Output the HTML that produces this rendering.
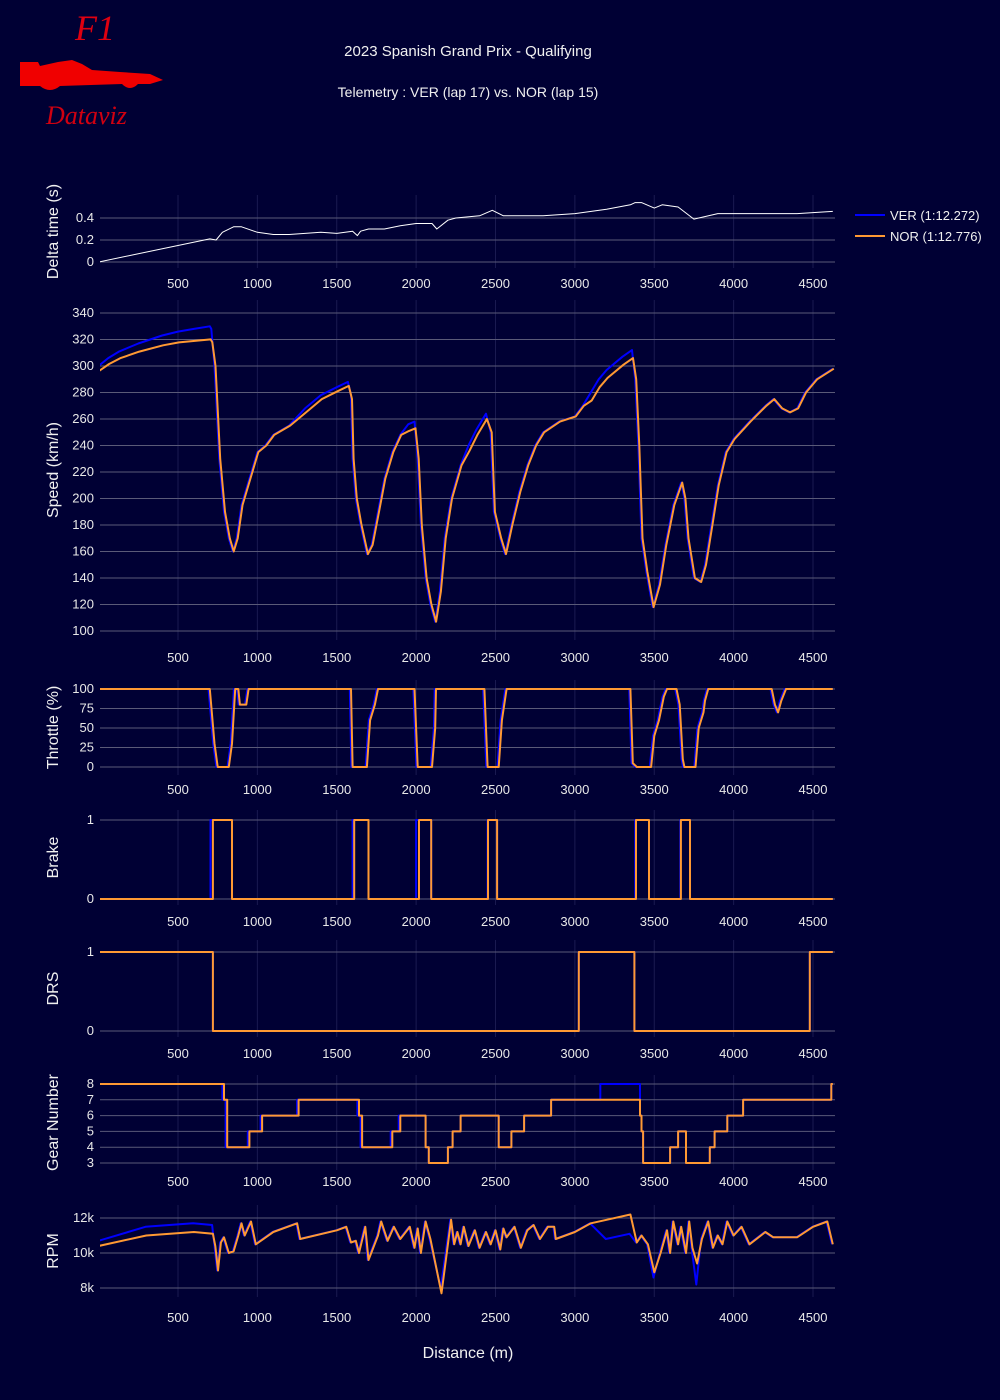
<!DOCTYPE html>
<html><head><meta charset="utf-8"><style>
html,body{margin:0;padding:0;background:#000034;}
svg{display:block;font-family:"Liberation Sans",sans-serif;}
</style></head><body>
<svg id="s" width="1000" height="1400" xmlns="http://www.w3.org/2000/svg">
<rect width="1000" height="1400" fill="#000034"/>
<text x="75" y="40" fill="#e00010" font-family="Liberation Serif,serif" font-style="italic" font-size="36">F1</text>
<path d="M20 62 L38 62 L40 66 L58 62 L72 60 L82 64 L92 70 L120 72 L150 74 L163 80 L150 84 L138 84 Q130 92 122 84 L60 86 Q50 94 40 86 L20 86 Z" fill="#f00000"/>
<text x="46" y="124" fill="#d00010" font-family="Liberation Serif,serif" font-style="italic" font-size="26">Dataviz</text>
<text x="468" y="56" fill="#f0f0f0" font-size="15" text-anchor="middle">2023 Spanish Grand Prix - Qualifying</text>
<text x="468" y="97" fill="#f0f0f0" font-size="14" text-anchor="middle">Telemetry :  VER (lap 17) vs. NOR (lap 15)</text>
<line x1="855" y1="215" x2="885" y2="215" stroke="#0000ff" stroke-width="2"/>
<text x="890" y="220" fill="#f0f0f0" font-size="13">VER (1:12.272)</text>
<line x1="855" y1="236" x2="885" y2="236" stroke="#ff9933" stroke-width="2"/>
<text x="890" y="241" fill="#f0f0f0" font-size="13">NOR (1:12.776)</text>
<text x="468" y="1358" fill="#f0f0f0" font-size="16" text-anchor="middle">Distance (m)</text>
<defs><clipPath id="c"><rect x="100" y="180" width="735" height="1150"/></clipPath></defs>
<g id="g"></g>
</svg>
<script>
const NS="http://www.w3.org/2000/svg",G=document.getElementById('g'),S=document.getElementById('s');
const X=d=>178+(d-500)*0.15875;
function el(t,a,p){const e=document.createElementNS(NS,t);for(const k in a)e.setAttribute(k,a[k]);(p||G).appendChild(e);return e;}
function txt(s,a){const e=el('text',a,S);e.textContent=s;return e;}
function panel(p){
 for(let d=500;d<=4500;d+=500){el('line',{x1:X(d),x2:X(d),y1:p.top,y2:p.bot,stroke:'#1a1a50','stroke-width':1});
  txt(String(d),{x:X(d),y:p.tl,fill:'#e8e8e8','font-size':13,'text-anchor':'middle'});}
 for(const t of p.ticks){const y=p.Y(t[0]);el('line',{x1:100,x2:835,y1:y,y2:y,stroke:'#5a5a78','stroke-width':1});
  txt(t[1],{x:94,y:y+4,fill:'#e8e8e8','font-size':13,'text-anchor':'end'});}
 const cy=(p.top+p.bot)/2;
 txt(p.title,{x:58,y:cy,fill:'#f0f0f0','font-size':16,'text-anchor':'middle',transform:`rotate(-90 58 ${cy})`});
}
function line(pts,Y,col,w,step){let s='';pts.forEach((q,i)=>{const x=X(q[0]).toFixed(1),y=Y(q[1]).toFixed(1);
 if(i==0)s+=`M${x} ${y}`;else if(step)s+=`H${x}V${y}`;else s+=`L${x} ${y}`;});
 if(step)s+=`H${X(4625)}`;
 el('path',{d:s,fill:'none',stroke:col,'stroke-width':w,'clip-path':'url(#c)','stroke-linejoin':'round'});}
const V='#0000ff',N='#ff9933';
const Yd=v=>262-v*110;
panel({top:195,bot:268,tl:288,Y:Yd,ticks:[[0,'0'],[0.2,'0.2'],[0.4,'0.4']],title:'Delta time (s)'});
line([[0,0],[700,0.21],[740,0.2],[780,0.27],[850,0.32],[900,0.32],[1000,0.27],[1100,0.25],[1200,0.25],[1400,0.27],[1500,0.26],[1600,0.28],[1630,0.24],[1650,0.28],[1700,0.3],[1800,0.3],[1900,0.33],[2000,0.35],[2100,0.35],[2130,0.3],[2200,0.38],[2250,0.4],[2400,0.42],[2480,0.47],[2550,0.42],[2800,0.42],[3000,0.44],[3200,0.48],[3350,0.52],[3380,0.54],[3420,0.54],[3500,0.49],[3550,0.52],[3650,0.5],[3750,0.39],[3900,0.44],[4200,0.44],[4400,0.44],[4625,0.46]],Yd,'#ffffff',1);
const Ys=v=>631-(v-100)*1.325;
panel({top:300,bot:640,tl:662,Y:Ys,ticks:[100,120,140,160,180,200,220,240,260,280,300,320,340].map(v=>[v,String(v)]),title:'Speed (km/h)'});
const sv=[[0,300],[60,306],[130,311],[250,317],[400,323],[500,326],[600,328],[700,330],[710,328],[730,300],[760,230],[790,190],[820,170],[845,160],[870,170],[900,195],[950,215],[1000,235],[1050,240],[1100,248],[1200,255],[1300,268],[1400,278],[1500,284],[1570,288],[1590,278],[1600,230],[1620,200],[1650,180],[1690,158],[1720,165],[1760,190],[1800,215],[1850,235],[1900,248],[1950,256],[1990,258],[2010,230],[2030,180],[2060,140],[2090,120],[2120,107],[2150,130],[2180,170],[2220,200],[2280,225],[2330,240],[2380,252],[2440,264],[2470,250],[2490,190],[2530,170],[2560,158],[2600,180],[2650,205],[2700,225],[2750,240],[2800,250],[2900,258],[3000,262],[3050,270],[3100,280],[3150,290],[3200,297],[3300,307],[3360,312],[3380,290],[3400,240],[3420,170],[3450,145],[3490,118],[3530,135],[3570,165],[3620,195],[3670,212],[3690,200],[3710,170],[3750,140],[3790,137],[3820,150],[3860,180],[3900,210],[3950,235],[4000,245],[4100,258],[4200,270],[4250,275],[4300,268],[4350,265],[4400,268],[4450,280],[4520,290],[4625,298]];
const sn=sv.map(([d,v])=>{let o=v;if(d<=710)o=v-4-6*(d/710);else if(d>=1300&&d<=1590)o=v-3;else if(d>=1950&&d<=2000)o=v-5;else if(d>=2300&&d<=2460)o=v-4;else if(d>=3100&&d<=3370)o=v-6;return [d+6,o];});
sn[0]=[0,296];
line(sv,Ys,V,2);line(sn,Ys,N,2);
const Yt=v=>767-v*0.78;
panel({top:680,bot:775,tl:794,Y:Yt,ticks:[[0,'0'],[25,'25'],[50,'50'],[75,'75'],[100,'100']],title:'Throttle (%)'});
const th=o=>[[0,100],[700+o,100],[730+o,30],[750+o,0],[820+o,0],[840+o,30],[860+o,100],[880+o,100],[890+o,80],[930+o,80],[945+o,100],[1590+o,100],[1600+o,0],[1690+o,0],[1710+o,60],[1740+o,80],[1760+o,100],[1990+o,100],[2010+o,0],[2100+o,0],[2120+o,50],[2125+o,100],[2430+o,100],[2450+o,0],[2520+o,0],[2540+o,60],[2570+o,100],[3350+o,100],[3365+o,5],[3390+o,0],[3480+o,0],[3500+o,40],[3530+o,60],[3560+o,90],[3580+o,100],[3640+o,100],[3660+o,80],[3680+o,10],[3690+o,0],[3760+o,0],[3780+o,50],[3810+o,70],[3820+o,85],[3840+o,100],[4240+o,100],[4260+o,80],[4280+o,70],[4300+o,85],[4330+o,100],[4625,100]];
line(th(-8),Yt,V,2);line(th(0),Yt,N,2);
const Yb=v=>899-v*79;
panel({top:810,bot:905,tl:926,Y:Yb,ticks:[[0,'0'],[1,'1']],title:'Brake'});
line([[0,0],[705,1],[840,0],[1600,1],[1700,0],[2000,1],[2095,0],[2450,1],[2510,0],[3380,1],[3467,0],[3665,1],[3725,0]],Yb,V,2,1);
line([[0,0],[720,1],[840,0],[1610,1],[1700,0],[2018,1],[2095,0],[2453,1],[2510,0],[3385,1],[3467,0],[3668,1],[3725,0]],Yb,N,2,1);
const Yr=v=>1031-v*79;
panel({top:940,bot:1037,tl:1058,Y:Yr,ticks:[[0,'0'],[1,'1']],title:'DRS'});
const drs=[[0,1],[720,0],[3025,1],[3375,0],[4480,1]];
line(drs,Yr,V,2,1);line(drs,Yr,N,2,1);
const Yg=v=>1084+(8-v)*15.8;
panel({top:1075,bot:1170,tl:1186,Y:Yg,ticks:[3,4,5,6,7,8].map(v=>[v,String(v)]),title:'Gear Number'});
const gn=[[0,8],[790,7],[810,4],[950,5],[1030,6],[1260,7],[1640,6],[1660,4],[1850,5],[1900,6],[2060,4],[2080,3],[2200,4],[2230,5],[2280,6],[2520,4],[2600,5],[2680,6],[2850,7],[3410,6],[3420,5],[3430,3],[3600,4],[3650,5],[3700,3],[3850,4],[3880,5],[3960,6],[4060,7],[4615,8]];
const gv=gn.map(([d,v])=>[d<2000?d-10:d,v]);gv[0]=[0,8];
const vi=gv.findIndex(q=>q[0]==2850);gv.splice(vi+1,0,[3160,8]);
line(gv,Yg,V,2,1);line(gn,Yg,N,2,1);
const Yp=v=>1253-(v-10000)*0.0175;
panel({top:1205,bot:1297,tl:1322,Y:Yp,ticks:[[8000,'8k'],[10000,'10k'],[12000,'12k']],title:'RPM'});
const rn=[[0,10400],[300,11000],[600,11200],[720,11100],[735,10400],[752,9000],[770,10600],[790,10900],[820,10000],[850,10100],[880,11000],[900,11700],[920,11000],[960,11800],[990,10500],[1100,11200],[1250,11700],[1270,10800],[1500,11300],[1560,11500],[1590,10600],[1620,10700],[1640,10000],[1680,11500],[1700,9600],[1760,11000],[1780,11800],[1820,10700],[1860,11500],[1900,10800],[1960,11500],[1990,10300],[2010,11400],[2030,10000],[2060,11800],[2090,10800],[2160,7700],[2220,11900],[2240,10500],[2260,11200],[2280,10500],[2300,11500],[2330,10400],[2370,11300],[2400,10300],[2440,11200],[2470,10500],[2500,11300],[2530,10200],[2550,11400],[2570,10900],[2620,11500],[2660,10300],[2700,11300],[2740,11600],[2780,10800],[2830,11500],[2870,11500],[2880,10800],[3000,11200],[3100,11700],[3200,11900],[3350,12200],[3390,10600],[3420,11000],[3460,10500],[3500,8900],[3540,10000],[3580,11300],[3600,10000],[3620,11800],[3650,10500],[3670,11500],[3700,10000],[3720,11800],[3740,10300],[3770,9400],[3800,10800],[3840,11800],[3870,10300],[3900,11000],[3930,10500],[3960,11800],[4000,11000],[4050,11500],[4100,10500],[4200,11200],[4250,10900],[4400,10900],[4500,11500],[4590,11800],[4625,10500]];
const rv=rn.map(([d,v])=>{let o=v;if(d<=720)o=v+(d<300?300:500);if(d==2160)o=8000;if(d==3500)o=8600;if(d==3770)o=8200;if(d>=3150&&d<=3350)o=v-1100;return [d-5,o];});rv[0]=[0,10700];
line(rv,Yp,V,2);line(rn,Yp,N,2);
</script>
</body></html>
